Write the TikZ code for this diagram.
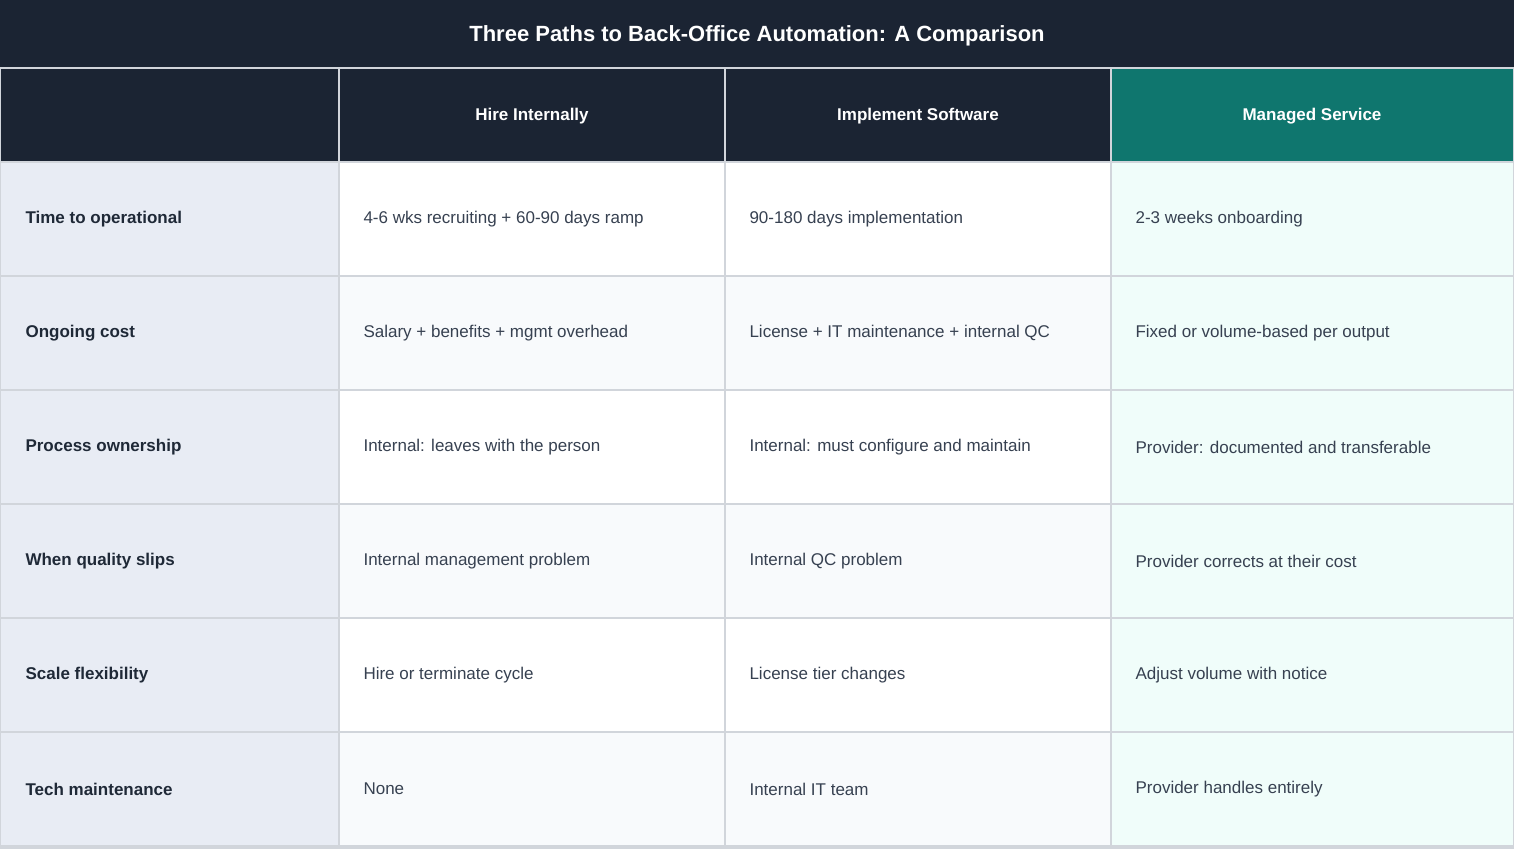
\documentclass[tikz,border=0pt]{standalone}
\usepackage{fontspec}
\setmainfont{Liberation Sans}
\definecolor{navy}{HTML}{1B2433}
\definecolor{teal}{HTML}{0F766E}
\definecolor{labelbg}{HTML}{E8ECF4}
\definecolor{stripe}{HTML}{F8FAFC}
\definecolor{mint}{HTML}{F0FDFA}
\definecolor{gridline}{HTML}{D1D5DB}
\definecolor{labeltext}{HTML}{1F2937}
\definecolor{bodytext}{HTML}{374151}
\tikzset{
  cellline/.style={draw=gridline,line width=2pt},
  headtext/.style={text=white,font=\fontsize{17}{20}\selectfont\bfseries},
  labeltxt/.style={anchor=west,text=labeltext,font=\fontsize{17}{20}\selectfont\bfseries},
  bodytxt/.style={anchor=west,text=bodytext,font=\fontsize{17}{20}\selectfont},
}
\begin{document}
\begin{tikzpicture}[x=1pt,y=-1pt]
    \useasboundingbox (0,0) rectangle (1514,848);
    % title band
    \fill[navy] (0,0) rectangle (1514,68);
    \node[text=white,font=\fontsize{22}{26}\selectfont\bfseries] (title) at (757,36) {Three Paths to Back-Office Automation: A Comparison};

    % header row
    \fill[navy] (0,68) rectangle (1111,162);
    \fill[teal] (1111,68) rectangle (1514,162);
    \node[headtext] (h1) at (532,116) {Hire Internally};
    \node[headtext] (h2) at (918,116) {Implement Software};
    \node[headtext] (h3) at (1312,116) {Managed Service};

    % body rows
    \foreach \row/\lab/\a/\b/\c [count=\i from 0] in {
        {Time to operational}/{4-6 wks recruiting + 60-90 days ramp}/{90-180 days implementation}/{2-3 weeks onboarding},
        {Ongoing cost}/{Salary + benefits + mgmt overhead}/{License + IT maintenance + internal QC}/{Fixed or volume-based per output},
        {Process ownership}/{Internal: leaves with the person}/{Internal: must configure and maintain}/{Provider: documented and transferable},
        {When quality slips}/{Internal management problem}/{Internal QC problem}/{Provider corrects at their cost},
        {Scale flexibility}/{Hire or terminate cycle}/{License tier changes}/{Adjust volume with notice},
        {Tech maintenance}/{None}/{Internal IT team}/{Provider handles entirely}} {
        \pgfmathsetmacro{\top}{162+114*\i}
        \pgfmathsetmacro{\mid}{\top+57}
        \pgfmathtruncatemacro{\odd}{mod(\i,2)}
        \ifnum\odd=1 \def\rowbg{stripe}\else\def\rowbg{white}\fi
        \fill[labelbg] (0,\top) rectangle (339,\top+114);
        \fill[\rowbg] (339,\top) rectangle (1111,\top+114);
        \fill[mint] (1111,\top) rectangle (1514,\top+114);
        \draw[cellline] (0,\top) rectangle (1514,\top+114);
        \node[labeltxt] (lab\i) at (22,\mid) {\row};
        \node[bodytxt] (a\i) at (360,\mid) {\lab};
        \node[bodytxt] (b\i) at (746,\mid) {\a};
        \node[bodytxt] (c\i) at (1132,\mid) {\b};
    }

    % column lines
    \draw[cellline] (0,68) rectangle (1514,848);
    \foreach \x in {339,725,1111} {
        \draw[cellline] (\x,68) -- (\x,848);
    }
\end{tikzpicture}
\end{document}
